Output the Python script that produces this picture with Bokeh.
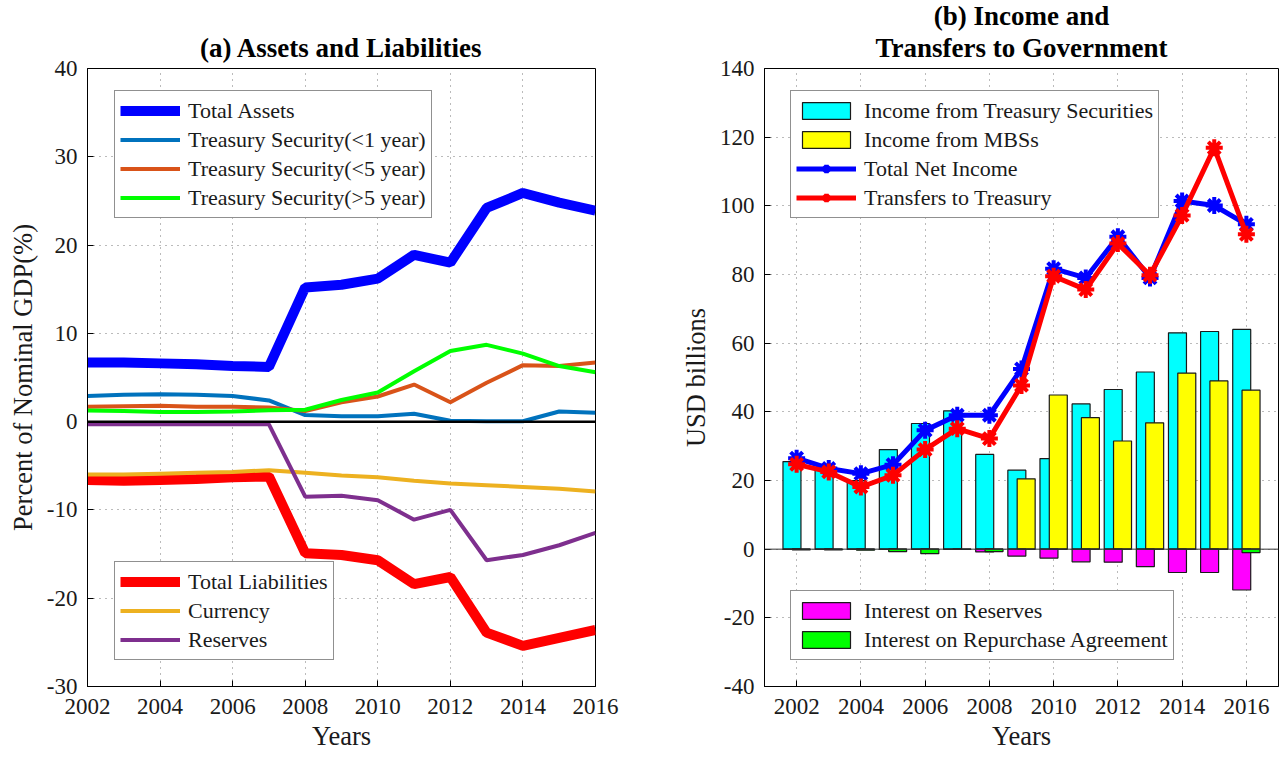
from bokeh.plotting import figure
from bokeh.layouts import row
from bokeh.models import (ColumnDataSource, Legend, LegendItem, Range1d, FixedTicker,
                          Title, Span, PrintfTickFormatter)
from bokeh.transform import dodge
from bokeh.embed import file_html
from bokeh.resources import INLINE

# ---------------- data ----------------
years = [2002, 2003, 2004, 2005, 2006, 2007, 2008, 2009, 2010, 2011, 2012, 2013, 2014, 2015, 2016]

# (a) Assets and Liabilities, percent of nominal GDP
total_assets = [6.7, 6.7, 6.6, 6.5, 6.3, 6.2, 15.2, 15.5, 16.2, 18.9, 18.0, 24.2, 25.9, 24.8, 23.9]
ts_lt1 = [2.9, 3.05, 3.1, 3.05, 2.9, 2.4, 0.75, 0.6, 0.6, 0.9, 0.1, 0.05, 0.05, 1.15, 1.0]
ts_lt5 = [1.7, 1.75, 1.8, 1.7, 1.7, 1.6, 1.2, 2.2, 2.85, 4.2, 2.2, 4.4, 6.4, 6.3, 6.7]
ts_gt5 = [1.25, 1.2, 1.1, 1.1, 1.15, 1.3, 1.35, 2.45, 3.3, 5.7, 8.0, 8.7, 7.7, 6.3, 5.6]
total_liab = [-6.6, -6.7, -6.6, -6.5, -6.3, -6.2, -14.9, -15.1, -15.7, -18.4, -17.6, -23.9, -25.4, -24.5, -23.6]
currency = [-6.0, -6.0, -5.9, -5.8, -5.7, -5.5, -5.8, -6.1, -6.3, -6.7, -7.0, -7.2, -7.4, -7.6, -7.9]
reserves = [-0.3, -0.3, -0.3, -0.3, -0.3, -0.3, -8.5, -8.4, -8.9, -11.1, -10.0, -15.7, -15.1, -14.0, -12.6]

# (b) Income and transfers, USD billions
ts_income = [25.5, 23.0, 20.0, 29.0, 36.6, 40.3, 27.6, 23.0, 26.4, 42.3, 46.5, 51.6, 63.0, 63.4, 64.0]
mbs_income = [0, 0, 0, 0, 0, 0, 0, 20.5, 44.9, 38.3, 31.5, 36.8, 51.3, 49.0, 46.3]
ior = [-0.1, -0.1, -0.1, -0.1, -0.1, -0.1, -0.8, -2.0, -2.6, -3.7, -3.8, -5.1, -6.8, -6.8, -11.9]
repo = [-0.2, -0.2, -0.3, -0.7, -1.3, -0.1, -0.7, 0, 0, 0, 0, 0, 0, 0, -1.0]
net_income = [26.5, 23.5, 22.0, 24.6, 34.6, 39.0, 39.0, 52.5, 81.7, 79.0, 91.0, 79.0, 101.4, 100.1, 94.6]
transfers = [24.7, 22.5, 18.1, 21.5, 29.0, 35.1, 32.2, 47.7, 79.5, 75.6, 89.0, 79.8, 97.2, 116.9, 91.7]

x_ticks = [2002, 2004, 2006, 2008, 2010, 2012, 2014, 2016]
left_y_ticks = [-30, -20, -10, 0, 10, 20, 30, 40]
right_y_ticks = [-40, -20, 0, 20, 40, 60, 80, 100, 120, 140]

FONT = "Liberation Serif"
H = 757
TOP = 68
FRAME_H = 618


def style(p, yticks):
    p.outline_line_color = "black"
    p.outline_line_width = 1
    p.outline_line_alpha = 1
    p.background_fill_color = "white"
    p.border_fill_color = "white"
    p.xaxis.ticker = FixedTicker(ticks=x_ticks)
    p.yaxis.ticker = FixedTicker(ticks=yticks)
    p.yaxis.formatter = PrintfTickFormatter(format="%d")
    p.xaxis.formatter = PrintfTickFormatter(format="%d")
    for ax in (p.xaxis[0], p.yaxis[0]):
        ax.axis_line_color = "black"
        ax.major_tick_in = 6
        ax.major_tick_out = 0
        ax.major_tick_line_color = "black"
        ax.minor_tick_line_color = None
        ax.major_label_text_font = FONT
        ax.major_label_text_font_size = "23px"
        ax.major_label_text_color = "#1a1a1a"
        ax.axis_label_text_font = FONT
        ax.axis_label_text_font_size = "26.5px"
        ax.axis_label_text_font_style = "normal"
        ax.axis_label_text_color = "#1a1a1a"
    p.xaxis.axis_label = "Years"
    p.xaxis[0].major_label_standoff = 12
    p.xaxis[0].axis_label_standoff = 4
    p.yaxis[0].major_label_standoff = 10
    p.yaxis[0].axis_label_standoff = 6
    p.xgrid.grid_line_color = "#555555"
    p.ygrid.grid_line_color = "#555555"
    p.xgrid.grid_line_dash = "1 5"
    p.ygrid.grid_line_dash = "1 5"
    p.xgrid.grid_line_alpha = 0.8
    p.ygrid.grid_line_alpha = 0.8


def make_legend(items, loc):
    return Legend(items=items, location=loc,
                  label_text_font=FONT, label_text_font_size="22px",
                  label_text_color="#1a1a1a",
                  glyph_width=60, glyph_height=21, label_height=29,
                  label_standoff=8, padding=5, spacing=0, margin=0,
                  border_line_color="#222222", border_line_width=1,
                  background_fill_color="white", background_fill_alpha=1)


# ---------------- panel (a) ----------------
src_a = ColumnDataSource(dict(year=years, ta=total_assets, t1=ts_lt1, t5=ts_lt5, tg=ts_gt5,
                              tl=total_liab, cur=currency, res=reserves))

p1 = figure(width=645, height=H, x_range=Range1d(2002, 2016), y_range=Range1d(-30, 40),
            output_backend="svg", toolbar_location=None,
            min_border_left=87, min_border_right=50, min_border_top=TOP,
            min_border_bottom=H - TOP - FRAME_H)
p1.title.text = "(a) Assets and Liabilities"
p1.title.align = "center"
p1.title.text_font = FONT
p1.title.text_font_size = "27px"
p1.title.text_font_style = "bold"
p1.title.text_color = "black"
p1.title.standoff = 11
style(p1, left_y_ticks)
p1.yaxis.axis_label = "Percent of Nominal GDP(%)"

r_ta = p1.line("year", "ta", source=src_a, line_color="#0000FF", line_width=10)
r_t1 = p1.line("year", "t1", source=src_a, line_color="#0072BD", line_width=4)
r_t5 = p1.line("year", "t5", source=src_a, line_color="#D95319", line_width=4)
r_tg = p1.line("year", "tg", source=src_a, line_color="#00FF00", line_width=4)
r_tl = p1.line("year", "tl", source=src_a, line_color="#FF0000", line_width=10)
r_cur = p1.line("year", "cur", source=src_a, line_color="#EDB120", line_width=4)
r_res = p1.line("year", "res", source=src_a, line_color="#7E2F8E", line_width=4)
p1.add_layout(Span(location=0, dimension="width", line_color="black", line_width=2.5))

leg_a1 = make_legend([
    LegendItem(label="Total Assets", renderers=[r_ta]),
    LegendItem(label="Treasury Security(<1 year)", renderers=[r_t1]),
    LegendItem(label="Treasury Security(<5 year)", renderers=[r_t5]),
    LegendItem(label="Treasury Security(>5 year)", renderers=[r_tg]),
], (27, 468))
leg_a2 = make_legend([
    LegendItem(label="Total Liabilities", renderers=[r_tl]),
    LegendItem(label="Currency", renderers=[r_cur]),
    LegendItem(label="Reserves", renderers=[r_res]),
], (27, 26))
p1.add_layout(leg_a1, "center")
p1.add_layout(leg_a2, "center")

# ---------------- panel (b) ----------------
src_b = ColumnDataSource(dict(year=years, tsi=ts_income, mbs=mbs_income, ior=ior, repo=repo,
                              net=net_income, tr=transfers))

p2 = figure(width=639, height=H, x_range=Range1d(2001, 2017), y_range=Range1d(-40, 140),
            output_backend="svg", toolbar_location=None, title=None,
            min_border_left=119, min_border_right=6, min_border_top=TOP,
            min_border_bottom=H - TOP - FRAME_H)
for txt, so in (("Transfers to Government", 11), ("(b) Income and", -11)):
    p2.add_layout(Title(text=txt, align="center", text_font=FONT, text_font_size="27px",
                        text_font_style="bold", text_color="black", standoff=so), "above")
style(p2, right_y_ticks)
p2.yaxis.axis_label = "USD billions"

BW = 0.56
OFF = 0.145
r_tsi = p2.vbar(x=dodge("year", -OFF, range=p2.x_range), top="tsi", bottom=0, width=BW, source=src_b,
                fill_color="#00FFFF", line_color="#1a1a1a", line_width=1.2)
r_mbs = p2.vbar(x=dodge("year", OFF, range=p2.x_range), top="mbs", bottom=0, width=BW, source=src_b,
                fill_color="#FFFF00", line_color="#1a1a1a", line_width=1.2)
r_ior = p2.vbar(x=dodge("year", -OFF, range=p2.x_range), top=0, bottom="ior", width=BW, source=src_b,
                fill_color="#FF00FF", line_color="#1a1a1a", line_width=1.2)
r_repo = p2.vbar(x=dodge("year", OFF, range=p2.x_range), top=0, bottom="repo", width=BW, source=src_b,
                 fill_color="#00FF00", line_color="#1a1a1a", line_width=1.2)
p2.add_layout(Span(location=0, dimension="width", line_color="#333333", line_width=1))

r_net_l = p2.line("year", "net", source=src_b, line_color="#0000FF", line_width=5)
r_net_m = p2.scatter("year", "net", source=src_b, marker="asterisk", size=17,
                     line_color="#0000FF", line_width=4)
r_tr_l = p2.line("year", "tr", source=src_b, line_color="#FF0000", line_width=5)
r_tr_m = p2.scatter("year", "tr", source=src_b, marker="asterisk", size=17,
                    line_color="#FF0000", line_width=4)

leg_b1 = make_legend([
    LegendItem(label="Income from Treasury Securities", renderers=[r_tsi]),
    LegendItem(label="Income from MBSs", renderers=[r_mbs]),
    LegendItem(label="Total Net Income", renderers=[r_net_l, r_net_m]),
    LegendItem(label="Transfers to Treasury", renderers=[r_tr_l, r_tr_m]),
], (26, 468))
leg_b2 = make_legend([
    LegendItem(label="Interest on Reserves", renderers=[r_ior]),
    LegendItem(label="Interest on Repurchase Agreement", renderers=[r_repo]),
], (26, 26))
p2.add_layout(leg_b1, "center")
p2.add_layout(leg_b2, "center")

layout = row(p1, p2)
open("out.html", "w").write(file_html(layout, INLINE))
